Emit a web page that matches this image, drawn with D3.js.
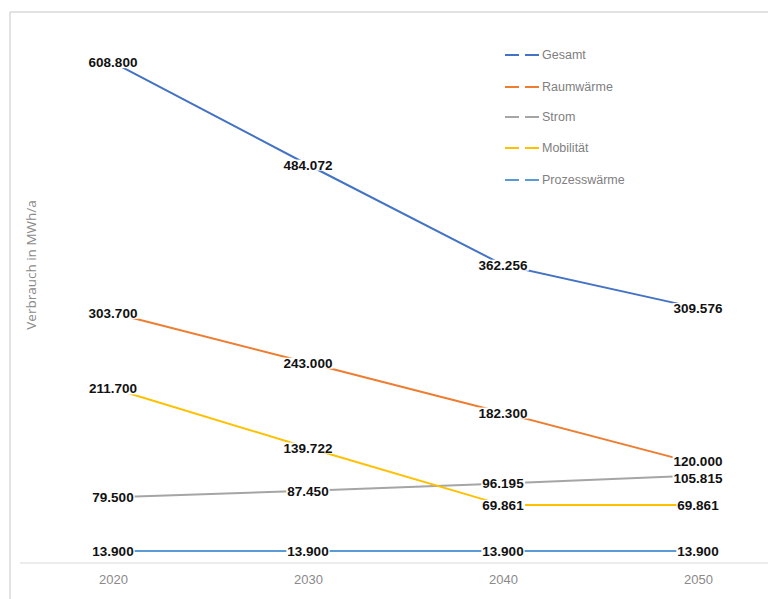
<!DOCTYPE html>
<html>
<head>
<meta charset="utf-8">
<script src="https://cdn.jsdelivr.net/npm/d3@7"></script>
<style>
  html, body { margin: 0; padding: 0; background: #fff; }
  svg { display: block; }
</style>
</head>
<body>
<svg id="chart" width="768" height="599"></svg>
<script>
// ---- Data ----
const years = ["2020", "2030", "2040", "2050"];
const seriesNames = ["Gesamt", "Raumwärme", "Strom", "Mobilität", "Prozesswärme"];
const gesamt        = [608.800, 484.072, 362.256, 309.576];
const raumwaerme    = [303.700, 243.000, 182.300, 120.000];
const strom         = [79.500, 87.450, 96.195, 105.815];
const mobilitaet    = [211.700, 139.722, 69.861, 69.861];
const prozesswaerme = [13.900, 13.900, 13.900, 13.900];
const seriesColors = ["#4472C4", "#ED7D31", "#A5A5A5", "#FFC000", "#5B9BD5"];
const yTitle = "Verbrauch in MWh/a";

const seriesValues = [gesamt, raumwaerme, strom, mobilitaet, prozesswaerme];
const series = seriesNames.map((n, i) => ({
  name: n, color: seriesColors[i],
  values: years.map((y, j) => ({ year: y, value: seriesValues[i][j] }))
}));

const deFmt = v => d3.format(".3f")(v);

const svg = d3.select("#chart");

// Frame
svg.append("line").attr("x1", 10).attr("x2", 768).attr("y1", 12).attr("y2", 12)
  .attr("stroke", "#d9d9d9").attr("stroke-width", 1.5);
svg.append("line").attr("x1", 10).attr("x2", 10).attr("y1", 12).attr("y2", 599)
  .attr("stroke", "#d9d9d9").attr("stroke-width", 1.5);

// Scales
const x = d3.scalePoint().domain(years).range([113, 698]);
const y = d3.scaleLinear().domain([0, 600]).range([562.5, 69.5]);

// X axis
const xAxis = svg.append("g").attr("transform", "translate(0,563)")
  .call(d3.axisBottom(x).tickSize(0).tickPadding(12));
xAxis.select(".domain").remove();
xAxis.append("line").attr("x1", 20).attr("x2", 768).attr("y1", 0).attr("y2", 0)
  .attr("stroke", "#d9d9d9").attr("stroke-width", 1.2);
xAxis.selectAll("text")
  .attr("font-family", "'Liberation Sans', Arial, sans-serif")
  .attr("font-size", 13).attr("fill", "#8a8a8a");

// Y title
svg.append("text")
  .attr("transform", "translate(36,265) rotate(-90)")
  .attr("text-anchor", "middle")
  .attr("font-family", "'Open Sans', 'Liberation Sans', sans-serif")
  .attr("font-size", 13.5).attr("fill", "#8a8a8a")
  .text(yTitle);

// Lines
const line = d3.line().x(d => x(d.year)).y(d => y(d.value));
svg.append("g").selectAll("path").data(series).join("path")
  .attr("d", d => line(d.values))
  .attr("fill", "none")
  .attr("stroke", d => d.color)
  .attr("stroke-width", 2);

// Data labels (two crowded labels at 2050 nudged apart slightly)
const labels = [];
series.forEach((s, si) => s.values.forEach((v, vi) => {
  let off = 0;
  if (vi === 3 && si === 1) off = -3;
  if (vi === 3 && si === 2) off = 3;
  labels.push({ x: x(v.year), y: y(v.value) + off, t: deFmt(v.value) });
}));
const lg = svg.append("g");
const txt = lg.selectAll("text").data(labels).join("text")
  .attr("x", d => d.x).attr("y", d => d.y)
  .attr("dy", "0.36em")
  .attr("text-anchor", "middle")
  .attr("font-family", "'Liberation Sans', Arial, sans-serif")
  .attr("font-weight", "bold")
  .attr("font-size", 13.5)
  .attr("fill", "#111")
  .text(d => d.t);
txt.each(function (d) { d.bb = this.getBBox(); });
lg.insert("g", ":first-child").selectAll("rect").data(labels).join("rect")
  .attr("x", d => d.bb.x - 1).attr("y", d => d.bb.y + 2)
  .attr("width", d => d.bb.width + 2).attr("height", d => d.bb.height - 4)
  .attr("fill", "#fff");

// Legend
const legendY = [55, 87, 117, 148, 180];
const leg = svg.append("g");
series.forEach((s, i) => {
  const g = leg.append("g").attr("transform", `translate(505,${legendY[i]})`);
  g.append("line").attr("x1", 0).attr("x2", 35).attr("y1", 0).attr("y2", 0)
    .attr("stroke", s.color).attr("stroke-width", 2).attr("stroke-dasharray", "14,6");
  g.append("text").attr("x", 37).attr("y", 0).attr("dy", "0.35em")
    .attr("font-family", "'Liberation Sans Narrow', 'Liberation Sans', sans-serif")
    .attr("font-size", 12.5).attr("fill", "#808080")
    .text(s.name);
});
</script>
</body>
</html>
